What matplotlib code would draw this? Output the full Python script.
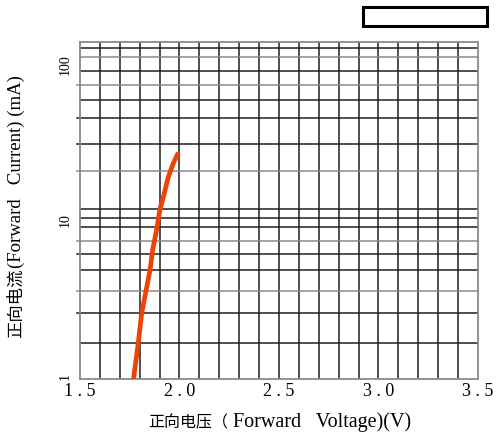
import numpy as np
import matplotlib.pyplot as plt
from matplotlib.patches import Rectangle
from matplotlib.transforms import ScaledTranslation

plt.rcParams['font.family'] = ['Liberation Serif', 'Noto Sans CJK SC']

# forward voltage (V) vs forward current (mA)
voltage = [1.769, 1.793, 1.810, 1.832, 1.852, 1.865, 1.885, 1.902, 1.919, 1.944, 1.969, 1.994]
current = [1.0, 2.0, 3.0, 4.0, 5.0, 6.3, 7.8, 10.0, 12.5, 17.9, 22.4, 26.3]

x_ticks = [1.5, 2.0, 2.5, 3.0, 3.5]
x_labels = ["1 . 5", "2 . 0", "2 . 5", "3 . 0", "3 . 5"]
y_ticks = [1, 10, 100]
y_labels = ["1", "10", "100"]

# axis titles, split in CJK / latin parts (they use different sizes in the original)
xlabel_parts = [("正向电压", 11.5), ("（", 11.5), (" Forward   Voltage)(V)", 14.5)]
ylabel_parts = [("正向电流", 12.5), ("(Forward   Current) (mA)", 13.5)]

# the original grid is a hand drawn log paper: value -> height on the axis
grid_vals = [1, 2, 3, 4, 5, 6, 7, 8, 9, 10, 20, 30, 40, 50, 60, 70, 80, 90, 100]
grid_frac = [0, 0.1076, 0.1948, 0.2618, 0.3232, 0.3697, 0.4100, 0.4497, 0.4764, 0.5031,
             0.6176, 0.6967, 0.7729, 0.8272, 0.8716, 0.9131, 0.9538, 0.9804, 1.0]
gray_lines = [1, 4, 7, 20, 60, 80, 100]
stub_lines = [3, 4, 6, 7, 20, 30, 40, 60]

lg = np.log10(grid_vals)


def fwd(v):
    v = np.clip(np.asarray(v, dtype=float), 1e-3, None)
    return np.interp(np.log10(v), lg, grid_frac, left=-1, right=2)


def inv(f):
    return 10 ** np.interp(np.asarray(f, dtype=float), grid_frac, lg)


fig = plt.figure(figsize=(4.99, 4.41), dpi=100)
ax = fig.add_axes([0.1603, 0.1406, 0.7976, 0.7649])
ax.set_yscale('function', functions=(fwd, inv))
ax.set_xlim(1.5, 3.5)
ax.set_ylim(1, 100)

# vertical grid every 0.1 V
for v in np.arange(1.6, 3.45, 0.1):
    ax.axvline(v, color='#1e1e1e', lw=1.1, zorder=1)

# horizontal grid
for g in grid_vals[1:-1]:
    c = '#8a8a8a' if g in gray_lines else '#1e1e1e'
    xmin = -0.008 if g in stub_lines else 0
    ax.axhline(g, xmin=xmin, xmax=1, color=c, lw=1.1, clip_on=False, zorder=1)

ax.plot(voltage, current, color='#ef4209', lw=3.4, solid_capstyle='butt', zorder=3)

for s in ax.spines.values():
    s.set_color('#8a8a8a')
    s.set_linewidth(1.3)

ax.set_xticks(x_ticks)
ax.set_xticklabels(x_labels, fontsize=13)
ax.set_yticks(y_ticks)
ax.set_yticklabels(y_labels, fontsize=10, rotation=90, va='center')
ax.yaxis.set_minor_locator(plt.NullLocator())
ax.tick_params(axis='both', length=0)
ax.tick_params(axis='x', pad=3)
ax.tick_params(axis='y', pad=6)

# labels sit a bit below their grid lines in the original
shifts = {"10": -0.11, "100": -0.23, "1": 0.02}
for lab in ax.get_yticklabels():
    dy = shifts.get(lab.get_text(), 0)
    lab.set_transform(lab.get_transform() + ScaledTranslation(0, dy, fig.dpi_scale_trans))

# x title: pieces chained left to right on one baseline
base_y = 1 - 427 / 441
last = fig.text(148 / 499, base_y, xlabel_parts[0][0], fontsize=xlabel_parts[0][1],
                va='baseline', ha='left')
for txt, size in xlabel_parts[1:]:
    last = ax.annotate(txt, xy=(1, base_y), xycoords=(last, 'figure fraction'),
                       fontsize=size, va='baseline', ha='left', annotation_clip=False)

# y title: rotated, chained bottom to top
base_x = 21 / 499
last = fig.text(base_x, 1 - 338 / 441, ylabel_parts[0][0], fontsize=ylabel_parts[0][1],
                rotation=90, rotation_mode='anchor', ha='left', va='baseline')
for txt, size in ylabel_parts[1:]:
    last = ax.annotate(txt, xy=(base_x, 1), xycoords=('figure fraction', last),
                       fontsize=size, rotation=90, rotation_mode='anchor',
                       ha='left', va='baseline', annotation_clip=False)

fig.patches.append(Rectangle((363 / 499, 1 - 26 / 441), 124 / 499, 18.5 / 441,
                             transform=fig.transFigure, fill=False,
                             edgecolor='black', lw=2.2))

fig.savefig("out.png", dpi=100)
